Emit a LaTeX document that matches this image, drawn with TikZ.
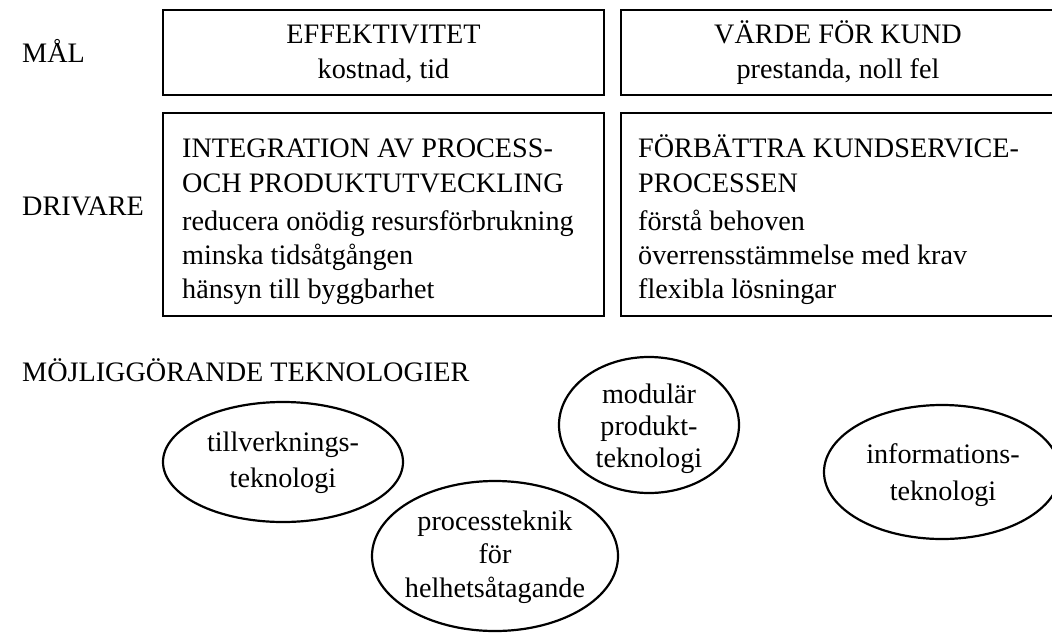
\documentclass[tikz,border=0pt]{standalone}
\usepackage{fontspec}
\setmainfont{Liberation Serif}
\usetikzlibrary{shapes.geometric}
\begin{document}
\begin{tikzpicture}[x=1pt,y=-1pt,
  every node/.style={inner sep=0pt, font=\fontsize{28.2}{33}\selectfont},
  frame/.style={draw, line width=2.6pt, rectangle, minimum width=441pt},
  tech/.style={draw, line width=2.2pt, ellipse},
  txt/.style={anchor=base west},
  ctxt/.style={anchor=base}]
\useasboundingbox (0,0) rectangle (1052,632);
\clip (0,0) rectangle (1052,632);

% row labels
\node[txt] (lblMal) at (22,62) {MÅL};
\node[txt] (lblDriv) at (22,215) {DRIVARE};
\node[txt] (lblTek) at (22,381) {MÖJLIGGÖRANDE TEKNOLOGIER};

% goal boxes
\node[frame, minimum height=85pt] (goalA) at (383.5,52.5) {};
\node[frame, minimum width=434pt, minimum height=85pt] (goalB) at (838,52.5) {};
\node[ctxt] (gA1) at (383.5,43) {EFFEKTIVITET};
\node[ctxt] (gA2) at (383.5,78) {kostnad, tid};
\node[ctxt] (gB1) at (838,43) {VÄRDE FÖR KUND};
\node[ctxt] (gB2) at (838,78) {prestanda, noll fel};

% driver boxes
\node[frame, minimum height=203pt] (drvA) at (383.5,214.5) {};
\node[frame, minimum width=434pt, minimum height=203pt] (drvB) at (838,214.5) {};
\node[txt] (dA1) at (182,157) {INTEGRATION AV PROCESS-};
\node[txt] (dA2) at (182,192) {OCH PRODUKTUTVECKLING};
\node[txt] (dA3) at (182,230) {reducera onödig resursförbrukning};
\node[txt] (dA4) at (182,264) {minska tidsåtgången};
\node[txt] (dA5) at (182,298) {hänsyn till byggbarhet};
\node[txt] (dB1) at (638,157) {FÖRBÄTTRA KUNDSERVICE-};
\node[txt] (dB2) at (638,192) {PROCESSEN};
\node[txt] (dB3) at (638,230) {förstå behoven};
\node[txt] (dB4) at (638,264) {överrensstämmelse med krav};
\node[txt] (dB5) at (638,298) {flexibla lösningar};

% enabling technologies
\node[tech, minimum width=240pt, minimum height=120pt] (tillv) at (283,462) {};
\node[ctxt] at (283,451) {tillverknings-};
\node[ctxt] at (283,487) {teknologi};

\node[tech, minimum width=246pt, minimum height=150pt] (proc) at (495,556) {};
\node[ctxt] at (495,530) {processteknik};
\node[ctxt] at (495,563) {för};
\node[ctxt] at (495,597) {helhetsåtagande};

\node[tech, minimum width=180pt, minimum height=136pt] (modul) at (649,425) {};
\node[ctxt] at (649,403) {modulär};
\node[ctxt] at (649,435) {produkt-};
\node[ctxt] at (649,467) {teknologi};

\node[tech, minimum width=236pt, minimum height=134pt] (info) at (942,472) {};
\node[ctxt] at (943,463) {informations-};
\node[ctxt] at (943,500) {teknologi};
\end{tikzpicture}
\end{document}
